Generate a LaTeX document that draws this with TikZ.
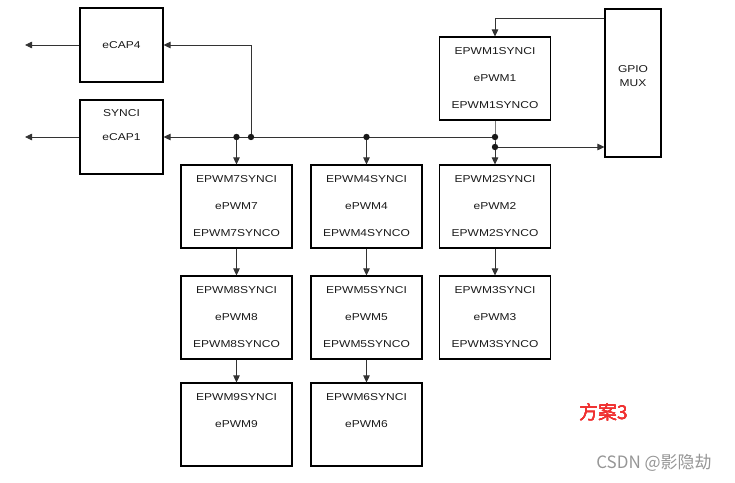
\documentclass[tikz,border=0pt]{standalone}
\usepackage{fontspec}
\setmainfont[FakeStretch=1.2]{Liberation Sans}
\newfontfamily\cjk{Noto Sans CJK SC}
\usetikzlibrary{arrows.meta}
\definecolor{plan}{RGB}{240,50,50}
\definecolor{mark}{RGB}{150,150,150}
\tikzset{
  pwmbox/.style={draw,line width=1.1pt,minimum width=111pt,minimum height=83pt,inner sep=0pt},
  lbl/.style={inner sep=0pt,font=\fontsize{10}{12}\selectfont,text=black!90},
  wire/.style={line width=0.8pt,draw=black!80},
  sig/.style={wire,-{Triangle[length=7pt,width=6.5pt]}},
}
\newcommand{\syncbox}[6]{
  \node[pwmbox] (#1) at (#2,#3) {};
  \node[lbl] (#1i) at (#2,#3-27) {#4};
  \node[lbl] (#1n) at (#2,#3) {#5};
  \node[lbl] (#1o) at (#2,#3+27) {#6};
}
\newcommand{\joint}[1]{\fill[black!90] (#1) circle (3.2);}

\begin{document}
\begin{tikzpicture}[x=1pt,y=-1pt]
\useasboundingbox (0,0) rectangle (735,482);
% capture units and pin mux
\node[pwmbox,minimum width=83pt,minimum height=74pt] (ecap4) at (121.5,45) {};
\node[lbl] (ecap4n) at (121.5,45) {eCAP4};
\node[pwmbox,minimum width=83pt,minimum height=74pt] (ecap1) at (121.5,137) {};
\node[lbl] (ecap1i) at (121.5,113) {SYNCI};
\node[lbl] (ecap1n) at (121.5,137) {eCAP1};
\node[pwmbox,minimum width=56pt,minimum height=148pt] (gpio) at (633,83) {};
\node[lbl] (gpion) at (633,69) {GPIO};
\node[lbl] (gpiom) at (633,83) {MUX};
% pwm chains
\syncbox{pwm1}{495}{78.5}{EPWM1SYNCI}{ePWM1}{EPWM1SYNCO}
\syncbox{pwm7}{236.5}{206.5}{EPWM7SYNCI}{ePWM7}{EPWM7SYNCO}
\syncbox{pwm4}{366.5}{206.5}{EPWM4SYNCI}{ePWM4}{EPWM4SYNCO}
\syncbox{pwm2}{495}{206.5}{EPWM2SYNCI}{ePWM2}{EPWM2SYNCO}
\syncbox{pwm8}{236.5}{317.5}{EPWM8SYNCI}{ePWM8}{EPWM8SYNCO}
\syncbox{pwm5}{366.5}{317.5}{EPWM5SYNCI}{ePWM5}{EPWM5SYNCO}
\syncbox{pwm3}{495}{317.5}{EPWM3SYNCI}{ePWM3}{EPWM3SYNCO}
\syncbox{pwm9}{236.5}{424.5}{EPWM9SYNCI}{ePWM9}{}
\syncbox{pwm6}{366.5}{424.5}{EPWM6SYNCI}{ePWM6}{}
% wiring
\coordinate (bus) at (495,137);
\coordinate (tap7) at (236.5,137);
\coordinate (tapcap) at (251,137);
\coordinate (tap4) at (366.5,137);
\coordinate (fork) at (495,147);
\coordinate (gin) at (495,18);
\coordinate (out4) at (25,45);
\coordinate (out1) at (25,137);
\draw[sig] (ecap4.west) -- (out4);
\draw[sig] (ecap1.west) -- (out1);
\draw[sig] (bus) -- (ecap1.east);
\draw[sig] (tapcap) |- (ecap4.east);
\draw[sig] (tap7) -- (pwm7.north);
\draw[sig] (tap4) -- (pwm4.north);
\draw[wire] (pwm1.south) -- (bus) -- (fork);
\draw[sig] (fork) -- (pwm2.north);
\draw[sig] (fork) -- (fork -| gpio.west);
\draw[sig] (gin -| gpio.west) -- (gin) -- (pwm1.north);
\foreach \a/\b in {pwm7/pwm8,pwm8/pwm9,pwm4/pwm5,pwm5/pwm6,pwm2/pwm3}
  \draw[sig] (\a) -- (\b);
\foreach \p in {tap7,tapcap,tap4,bus,fork}
  \joint{\p}
\node[font=\cjk\fontsize{19}{22}\selectfont,text=plan,inner sep=0pt] (plantxt) at (604,412) {方案3};
\node[font=\cjk\fontsize{17}{20}\selectfont,text=mark,inner sep=0pt] (marktxt) at (654,463) {CSDN @影隐劫};
\end{tikzpicture}
\end{document}
